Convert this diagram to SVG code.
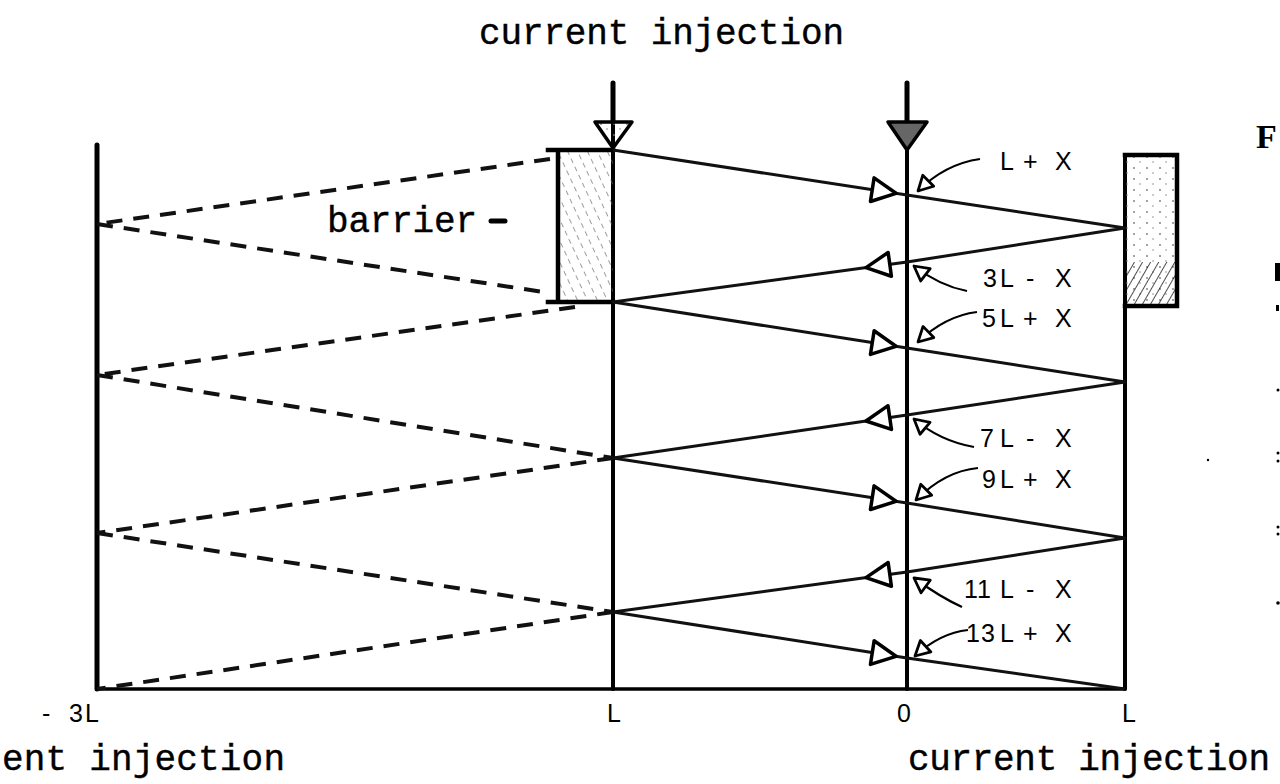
<svg xmlns="http://www.w3.org/2000/svg" width="1280" height="784" viewBox="0 0 1280 784">
<style>
.ax{stroke:#000;stroke-width:4;stroke-linecap:round;fill:none}
.ray{stroke:#111;stroke-width:3;fill:none;stroke-linejoin:round}
.dash{stroke:#111;stroke-width:4;stroke-dasharray:16 11;fill:none}
.tw{font-family:"Liberation Mono","Courier New",monospace;font-size:36px;fill:#000;stroke:#000;stroke-width:0.4}
.lt{font-family:"Liberation Sans",Arial,sans-serif;font-size:25px;fill:#000}
.tri{fill:#fff;stroke:#000;stroke-width:3.5;stroke-linejoin:round}
.lead{stroke:#000;stroke-width:2.2;fill:none;marker-end:url(#pt)}
.bx{stroke:#000;stroke-width:4.5;fill:none;stroke-linecap:square}
</style>
<defs>
<pattern id="hatchL" patternUnits="userSpaceOnUse" width="9" height="9" patternTransform="rotate(-25)">
<line x1="0" y1="0" x2="0" y2="9" stroke="#666" stroke-width="1.3" stroke-dasharray="3 4"/>
</pattern>
<pattern id="hatchR" patternUnits="userSpaceOnUse" width="7" height="7" patternTransform="rotate(30)">
<line x1="0" y1="0" x2="0" y2="7" stroke="#222" stroke-width="1.6"/>
</pattern>
<pattern id="speck" patternUnits="userSpaceOnUse" width="13" height="11">
<circle cx="3" cy="3" r="0.9" fill="#777"/>
<circle cx="9" cy="8" r="0.8" fill="#888"/>
</pattern>
<marker id="pt" markerUnits="userSpaceOnUse" markerWidth="20" markerHeight="20" refX="0" refY="0" viewBox="-16 -9 18 18" orient="auto">
<path d="M0,0 L-13,-7 L-13,7 Z" fill="#fff" stroke="#000" stroke-width="2.5" stroke-linejoin="round"/>
</marker>
<path id="arr" d="M0,0 L-24,-12 L-24,12 Z"/>
</defs>

<g id="axes">
<line class="ax" x1="97" y1="145" x2="97" y2="689" style="stroke-width:5"/>
<line class="ax" x1="613" y1="83" x2="613" y2="689"/>
<line class="ax" x1="907" y1="83" x2="907" y2="689"/>
<line class="ax" x1="1125" y1="155" x2="1125" y2="689"/>
<line class="ax" x1="97" y1="689" x2="1125" y2="689" style="stroke-width:3.5"/>
</g>

<g id="barrier-left">
<rect x="558" y="150" width="55" height="152" fill="url(#hatchL)"/>
<path class="bx" d="M548,150 L613,150 M558,150 L558,302 M548,302 L613,302"/>
</g>

<g id="barrier-right">
<rect x="1125" y="155" width="52" height="151" fill="url(#speck)"/>
<rect x="1127" y="262" width="48" height="43" fill="url(#hatchR)"/>
<path class="bx" d="M1125,155 L1177,155 L1177,306 L1125,306"/>
</g>

<g id="injection-L">
<line x1="613" y1="83" x2="613" y2="122" stroke="#000" stroke-width="5" stroke-linecap="round"/>
<path class="tri" d="M595,122 L632,122 L613,148 Z" style="fill:url(#speck)"/>
</g>
<g id="injection-0">
<line x1="907" y1="83" x2="907" y2="122" stroke="#000" stroke-width="5" stroke-linecap="round"/>
<path class="tri" d="M888,122 L927,122 L907,150 Z" style="fill:#666"/>
</g>

<g id="connectors">
<polyline class="ray" points="613,150 907,195 1125,228 907,262 613,302 907,348 1125,382 907,415 613,458 907,503 1125,538 907,572 613,612 907,658 1125,689"/>
<line class="dash" x1="550" y1="159" x2="97" y2="224"/>
<line class="dash" x1="97" y1="224" x2="550" y2="293"/>
<line class="dash" x1="575" y1="307" x2="97" y2="375"/>
<line class="dash" x1="97" y1="375" x2="613" y2="458"/>
<line class="dash" x1="613" y1="458" x2="97" y2="533"/>
<line class="dash" x1="97" y1="533" x2="613" y2="612"/>
<line class="dash" x1="613" y1="612" x2="97" y2="689"/>
<use href="#arr" class="tri" transform="translate(896,193.3) rotate(8.7)"/>
<use href="#arr" class="tri" transform="translate(896,346.3) rotate(8.9)"/>
<use href="#arr" class="tri" transform="translate(896,501.3) rotate(8.7)"/>
<use href="#arr" class="tri" transform="translate(896,656.3) rotate(8.9)"/>
<use href="#arr" class="tri" transform="translate(866,267.6) rotate(172.25)"/>
<use href="#arr" class="tri" transform="translate(866,421) rotate(171.7)"/>
<use href="#arr" class="tri" transform="translate(866,577.6) rotate(172.25)"/>
<path class="lead" d="M980,159 Q945,164 918,191"/>
<path class="lead" d="M967,291 Q940,286 914,266"/>
<path class="lead" d="M977,312 Q945,316 918,342"/>
<path class="lead" d="M974,447 Q940,441 914,419"/>
<path class="lead" d="M978,468 Q945,471 916,500"/>
<path class="lead" d="M962,607 Q940,597 914,578"/>
<path class="lead" d="M968,630 Q940,633 915,656"/>
</g>

<g id="point-labels">
<text class="lt" y="170"><tspan x="1000">L</tspan><tspan x="1023">+</tspan><tspan x="1055">X</tspan></text>
<text class="lt" y="287"><tspan x="983">3</tspan><tspan x="1000">L</tspan><tspan x="1026">-</tspan><tspan x="1055">X</tspan></text>
<text class="lt" y="327"><tspan x="982">5</tspan><tspan x="1000">L</tspan><tspan x="1023">+</tspan><tspan x="1055">X</tspan></text>
<text class="lt" y="447"><tspan x="980">7</tspan><tspan x="1000">L</tspan><tspan x="1026">-</tspan><tspan x="1055">X</tspan></text>
<text class="lt" y="488"><tspan x="982">9</tspan><tspan x="1000">L</tspan><tspan x="1023">+</tspan><tspan x="1055">X</tspan></text>
<text class="lt" y="598"><tspan x="964" letter-spacing="1">11</tspan><tspan x="1000">L</tspan><tspan x="1026">-</tspan><tspan x="1055">X</tspan></text>
<text class="lt" y="642"><tspan x="966" letter-spacing="1">13</tspan><tspan x="1000">L</tspan><tspan x="1023">+</tspan><tspan x="1055">X</tspan></text>
</g>

<g id="axis-labels">
<text class="lt" y="722"><tspan x="42">-</tspan><tspan x="69" letter-spacing="2">3L</tspan></text>
<text class="lt" x="607" y="722">L</text>
<text class="lt" x="897" y="722">0</text>
<text class="lt" x="1122" y="722">L</text>
</g>

<g id="titles">
<text class="tw" x="479" y="44" textLength="365">current injection</text>
<text class="tw" x="2" y="770" textLength="283">ent injection</text>
<text class="tw" x="908" y="770" textLength="362">current injection</text>
<text class="tw" x="327" y="232" textLength="150">barrier</text>
<line x1="491" y1="221" x2="505" y2="221" stroke="#000" stroke-width="5" stroke-linecap="round"/>
</g>

<g id="margin">
<text x="1256" y="148" font-family="Liberation Serif,serif" font-weight="bold" font-size="34">F</text>
<rect x="1275" y="263" width="5" height="18" fill="#000"/>
<rect x="1276" y="305" width="3" height="6" fill="#000"/>
<circle cx="1278" cy="390" r="1.5" fill="#000"/>
<circle cx="1278" cy="453" r="1.5" fill="#000"/>
<circle cx="1278" cy="461" r="1.5" fill="#000"/>
<circle cx="1278" cy="527" r="1.5" fill="#000"/>
<circle cx="1278" cy="534" r="1.5" fill="#000"/>
<circle cx="1278" cy="603" r="1.8" fill="#000"/>
<circle cx="1208" cy="460" r="1.2" fill="#000"/>
</g>
</svg>
